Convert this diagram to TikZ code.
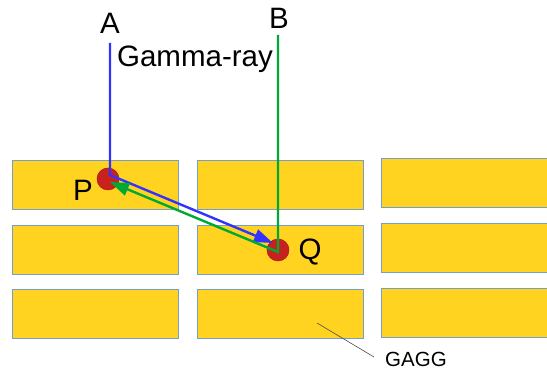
\documentclass[tikz,border=0pt]{standalone}
\usepackage{fontspec}
\setmainfont{Liberation Sans}
\usetikzlibrary{arrows.meta}
\definecolor{gagg}{HTML}{FFD320}
\definecolor{gaggedge}{HTML}{729FCF}
\definecolor{dotred}{HTML}{C9211E}
\definecolor{rayblue}{HTML}{3333FF}
\definecolor{raygreen}{HTML}{00A933}
\begin{document}
\begin{tikzpicture}[x=1pt,y=-1pt,
  crystal/.style={draw=gaggedge,line width=0.8pt,fill=gagg,inner sep=0pt,minimum width=166pt,minimum height=49pt},
  dot/.style={circle,draw=dotred!80!black,line width=0.5pt,fill=dotred,inner sep=0pt,minimum size=22pt},
  lbl/.style={font=\fontsize{29.5}{31}\selectfont,inner sep=0pt},
  ray/.style={line width=2.4pt},
  tip/.style={-{Triangle[length=19pt,width=13pt]}}
]
\useasboundingbox (0,0) rectangle (547,371);
% crystals
\node[crystal] (r11) at (95,185) {};
\node[crystal] (r12) at (280,185) {};
\node[crystal] (r13) at (464,183) {};
\node[crystal] (r21) at (95,250) {};
\node[crystal] (r22) at (280,250) {};
\node[crystal] (r23) at (464,248) {};
\node[crystal] (r31) at (95,314) {};
\node[crystal] (r32) at (280,314) {};
\node[crystal] (r33) at (464,313) {};
% labels
\node[lbl] (A) at (110,23) {A};
\node[lbl] (B) at (279,18) {B};
\node[lbl] (gamma) at (195,59) {Gamma-ray};
\node[lbl] (Plbl) at (83,190) {P};
\node[lbl] (Qlbl) at (310,252) {Q};
\node[font=\fontsize{20.5}{22}\selectfont,inner sep=0pt] (gaggl) at (416,359) {GAGG};
% interaction points
\node[dot] (P) at (108,179) {};
\node[dot] (Q) at (278,250) {};
% rays
\coordinate (a0) at (110,43);
\coordinate (a1) at (110,175);
\coordinate (a2) at (273,243);
\coordinate (b0) at (278,35);
\coordinate (b1) at (278,252);
\coordinate (b2) at (110,182);
\draw[ray,rayblue,tip] (a0) -- (a1) -- (a2);
\draw[ray,raygreen,tip] (b0) -- (b1) -- (b2);
% leader
\coordinate (g0) at (317,323);
\draw[black!70,line width=0.6pt] (g0) -- (374,357);
\end{tikzpicture}
\end{document}
